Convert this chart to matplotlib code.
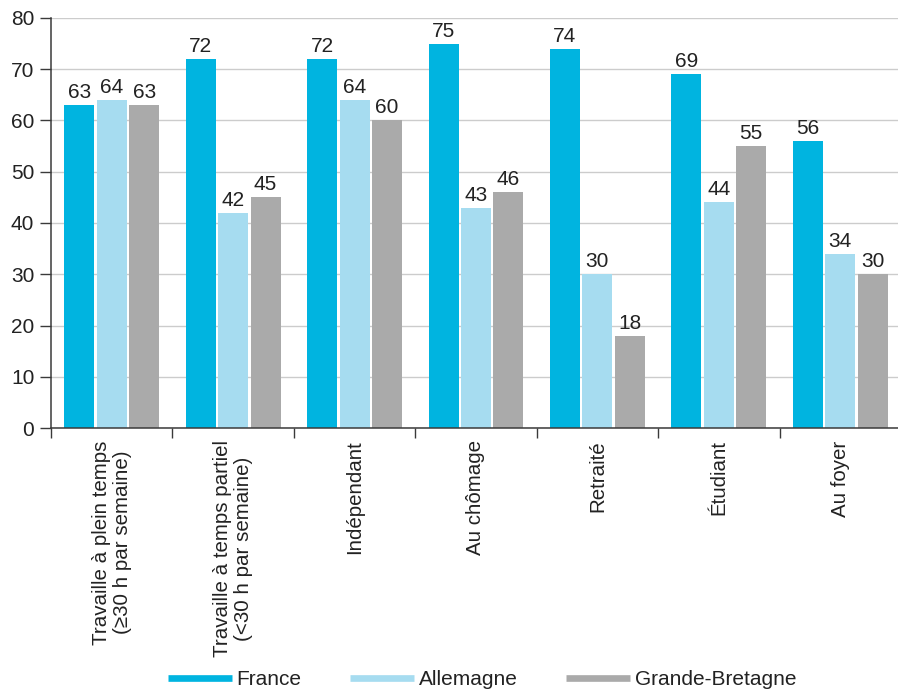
import numpy as np
import matplotlib
matplotlib.use("Agg")
import matplotlib.pyplot as plt
from matplotlib.lines import Line2D

plt.rcParams["font.family"] = ["Liberation Sans", "DejaVu Sans"]

# -----------------------------------------------------------------------
# Data
# -----------------------------------------------------------------------
categories = [
    "Travaille à plein temps\n(≥30 h par semaine)",
    "Travaille à temps partiel\n(<30 h par semaine)",
    "Indépendant",
    "Au chômage",
    "Retraité",
    "Étudiant",
    "Au foyer",
]
france = [63, 72, 72, 75, 74, 69, 56]
allemagne = [64, 42, 64, 43, 30, 44, 34]
grande_bretagne = [63, 45, 60, 46, 18, 55, 30]

series_names = ["France", "Allemagne", "Grande-Bretagne"]
colors = ["#00b4e0", "#a6dcf0", "#aaaaaa"]
yticks = [0, 10, 20, 30, 40, 50, 60, 70, 80]

TEXT = "#222222"
AXIS = "#3a3a3a"

fig = plt.figure(figsize=(8.98, 6.89), dpi=100)
ax = fig.add_axes([0.0568, 0.3788, 0.9465, 0.5951])

x = np.arange(len(categories))
bw = 0.247
step = 0.267
for i, (vals, col) in enumerate(zip([france, allemagne, grande_bretagne], colors)):
    pos = x + (i - 1) * step
    ax.bar(pos, vals, width=bw, color=col, zorder=3)
    for px, v in zip(pos, vals):
        ax.text(px, v + 0.6, str(v), ha="center", va="bottom",
                fontsize=15, color=TEXT, zorder=4)

ax.set_xlim(-0.5, len(categories) - 0.5)
ax.set_ylim(0, 80)
ax.set_yticks(yticks)
ax.yaxis.grid(True, color="#cccccc", lw=1.0, zorder=0)
ax.tick_params(axis="y", length=8, width=1, color=AXIS, pad=4,
               labelsize=15, labelcolor=TEXT)

# group boundary ticks pointing down, labels centred in groups
ax.set_xticks(np.arange(len(categories) + 1) - 0.5)
ax.set_xticklabels([])
ax.tick_params(axis="x", length=7, width=1, color=AXIS, direction="out")
for xi, lab in zip(x, categories):
    ax.text(xi, -2.4, lab, rotation=90, ha="center", va="top",
            multialignment="center", fontsize=14.8, color=TEXT,
            linespacing=1.15)

for s in ["top", "right"]:
    ax.spines[s].set_visible(False)
for s in ["left", "bottom"]:
    ax.spines[s].set_color(AXIS)
    ax.spines[s].set_linewidth(1.1)
ax.spines["bottom"].set_zorder(5)

handles = [Line2D([0], [0], color=c, lw=4.8, solid_capstyle="butt") for c in colors]
fig.legend(handles, series_names, loc="center", bbox_to_anchor=(0.537, 0.014),
           ncol=3, frameon=False, fontsize=15, handlelength=3.03,
           handletextpad=0.24, columnspacing=2.35, labelcolor=TEXT)

fig.savefig("out.png", dpi=100)
